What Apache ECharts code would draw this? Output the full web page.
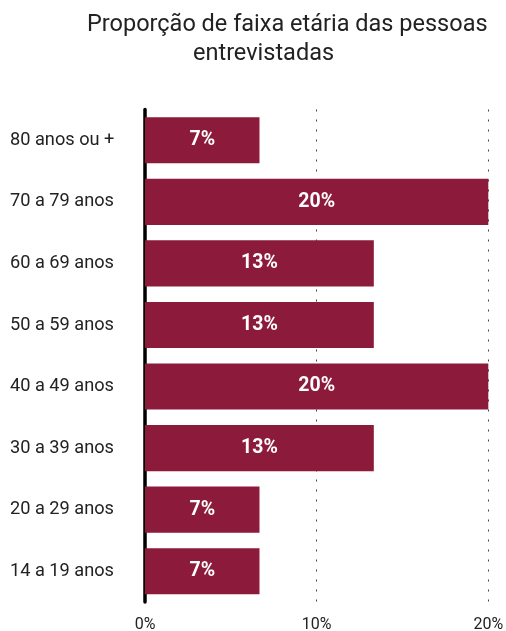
<!DOCTYPE html>
<html><head><meta charset="utf-8">
<script src="https://cdn.jsdelivr.net/npm/echarts@6/dist/echarts.min.js"></script>
<style>html,body{margin:0;padding:0;background:#fff}#c{width:506px;height:631px}</style>
</head><body><div id="c"></div>
<script>
const categories = ['14 a 19 anos','20 a 29 anos','30 a 39 anos','40 a 49 anos','50 a 59 anos','60 a 69 anos','70 a 79 anos','80 anos ou +'];
const values = [6.67, 6.67, 13.33, 20, 13.33, 13.33, 20, 6.67];
const tickValues = [0, 10, 20];
const titleLine1 = 'Proporção de faixa etária das pessoas';
const titleLine2 = 'entrevistadas';

const chart = echarts.init(document.getElementById('c'), null, {renderer:'canvas'});
chart.setOption({
  animation: false,
  title: [
    {text: titleLine1, left: 82, top: 8, textStyle:{fontFamily:'Roboto', fontSize:23.5, fontWeight:'normal', color:'#222'}},
    {text: titleLine2, left: 188, top: 37, textStyle:{fontFamily:'Roboto', fontSize:23.5, fontWeight:'normal', color:'#222'}}
  ],
  grid: {left:145, right:17.7, top:109.5, bottom:29, containLabel:false, outerBoundsMode:'none'},
  xAxis: {
    type:'value', min:tickValues[0], max:tickValues[tickValues.length-1], interval:10,
    axisLine:{show:false}, axisTick:{show:false},
    axisLabel:{formatter:v=>v+'%', fontFamily:'Roboto', fontSize:16, color:'#222', margin:15},
    splitLine:{show:true, lineStyle:{color:'#444', type:[2,8], width:1}}
  },
  yAxis: {
    type:'category', data:categories,
    axisLine:{show:true, lineStyle:{color:'#000', width:3.5}},
    axisTick:{show:false},
    axisLabel:{align:'left', margin:135, fontFamily:'Roboto', fontSize:18.2, color:'#222'}
  },
  series: [{
    type:'bar', data:values, barCategoryGap:'25%',
    itemStyle:{color:'#8c1a3a'},
    label:{show:true, position:'inside', formatter:p=>Math.round(p.value)+'%', color:'#fff', fontFamily:'Roboto', fontWeight:'bold', fontSize:19.5}
  }]
});
</script></body></html>
